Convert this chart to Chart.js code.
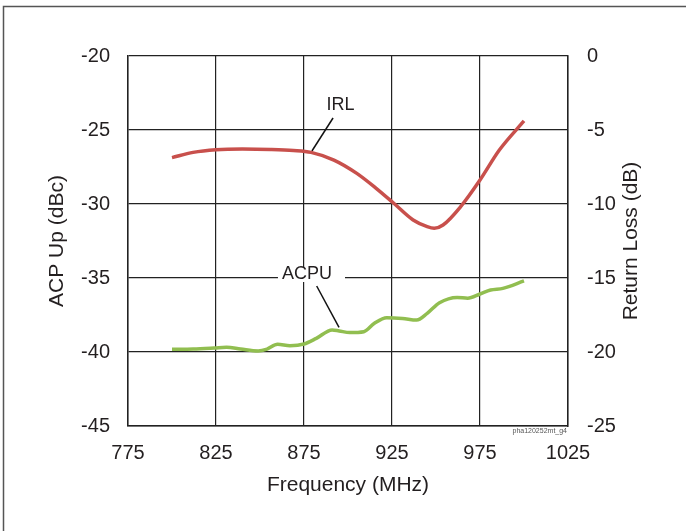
<!DOCTYPE html>
<html>
<head>
<meta charset="utf-8">
<script src="https://cdn.jsdelivr.net/npm/chart.js@4.4.0/dist/chart.umd.min.js"></script>
<style>
  html, body { margin: 0; padding: 0; background: #fff; }
  canvas { display: block; }
</style>
</head>
<body>
<canvas id="c" width="686" height="531"></canvas>
<script>
// ---- data ----
const xTicks = [775, 825, 875, 925, 975, 1025];
const leftTicks = [-20, -25, -30, -35, -40, -45];
const rightTicks = [0, -5, -10, -15, -20, -25];

const irlFreq = [800, 812, 825, 840, 856, 869, 879, 892, 905, 916, 926, 937, 945, 949, 954, 964, 975, 986, 1000];
const irlValues = [-6.87, -6.51, -6.33, -6.28, -6.31, -6.38, -6.51, -7.03, -7.93, -8.94, -9.95, -11.08, -11.53, -11.64, -11.42, -10.18, -8.38, -6.35, -4.39];

const acpuFreq = [800, 812, 824, 831, 839, 849, 854, 860, 867, 875, 882, 891, 895, 901, 909, 915, 922, 931, 939, 945, 952, 962, 968, 975, 981, 988, 1000];
const acpuValues = [-39.82, -39.80, -39.73, -39.68, -39.80, -39.93, -39.80, -39.48, -39.57, -39.46, -39.08, -38.51, -38.58, -38.69, -38.63, -38.06, -37.68, -37.73, -37.84, -37.39, -36.67, -36.31, -36.37, -36.08, -35.81, -35.70, -35.20];

// annotation anchors in data units (x: MHz, y: left axis dBc)
const irlLabel = { text: 'IRL', x: 895.7, y: -23.34 };
const irlLeader = [[891.5, -24.19], [879.5, -26.42]];
const acpuLabel = { text: 'ACPU', x: 876.7, y: -34.76 };
const acpuGap = [[860.2, -34.26], [898.3, -35.27]];
const acpuLeader = [[882.2, -35.54], [894.9, -38.33]];
const rightTitle = 'Return Loss (dB)';
const watermark = 'pha120252mt_g4';

const FONT = "'Liberation Sans', Arial, Helvetica, sans-serif";
const TEXT = '#231f20';
const TITLE_SIZE = 21;

const annotPlugin = {
  id: 'annot',
  beforeDraw(chart) {
    const ctx = chart.ctx;
    ctx.save();
    ctx.fillStyle = '#fff';
    ctx.fillRect(0, 0, chart.width, chart.height);
    ctx.strokeStyle = '#555';
    ctx.lineWidth = 1.5;
    ctx.beginPath();
    ctx.moveTo(3.5, chart.height);
    ctx.lineTo(3.5, 6.5);
    ctx.lineTo(chart.width, 6.5);
    ctx.stroke();
    ctx.restore();
  },
  beforeDatasetsDraw(chart) {
    const ctx = chart.ctx;
    const xs = chart.scales.x, ys = chart.scales.y, y2 = chart.scales.y2;
    ctx.save();
    // white gap behind ACPU label
    const gx0 = xs.getPixelForValue(acpuGap[0][0]), gy0 = ys.getPixelForValue(acpuGap[0][1]);
    const gx1 = xs.getPixelForValue(acpuGap[1][0]), gy1 = ys.getPixelForValue(acpuGap[1][1]);
    ctx.fillStyle = '#fff';
    ctx.fillRect(gx0, gy0, gx1 - gx0, gy1 - gy0);
    // labels
    ctx.fillStyle = TEXT;
    ctx.font = "18px " + FONT;
    ctx.textAlign = 'center';
    ctx.textBaseline = 'middle';
    ctx.fillText(irlLabel.text, xs.getPixelForValue(irlLabel.x), ys.getPixelForValue(irlLabel.y));
    ctx.fillText(acpuLabel.text, xs.getPixelForValue(acpuLabel.x), ys.getPixelForValue(acpuLabel.y));
    // leaders
    ctx.strokeStyle = '#111';
    ctx.lineWidth = 1.5;
    [irlLeader, acpuLeader].forEach(l => {
      ctx.beginPath();
      ctx.moveTo(xs.getPixelForValue(l[0][0]), ys.getPixelForValue(l[0][1]));
      ctx.lineTo(xs.getPixelForValue(l[1][0]), ys.getPixelForValue(l[1][1]));
      ctx.stroke();
    });
    // watermark
    const ca = chart.chartArea;
    ctx.fillStyle = '#555';
    ctx.font = "7px " + FONT;
    ctx.textAlign = 'right';
    ctx.textBaseline = 'top';
    ctx.fillText(watermark, ca.right - 1, ca.bottom + 2);
    // right axis title, reading bottom-to-top
    ctx.fillStyle = TEXT;
    ctx.font = TITLE_SIZE + "px " + FONT;
    ctx.textAlign = 'center';
    ctx.textBaseline = 'middle';
    ctx.translate(y2.right - TITLE_SIZE * 0.6, (y2.top + y2.bottom) / 2);
    ctx.rotate(-Math.PI / 2);
    ctx.fillText(rightTitle, 0, 0);
    ctx.restore();
  }
};

const tickFmt = v => String(v);

new Chart(document.getElementById('c'), {
  type: 'line',
  data: {
    datasets: [
      {
        label: 'IRL',
        data: irlFreq.map((f, i) => ({ x: f, y: irlValues[i] })),
        yAxisID: 'y2',
        borderColor: 'rgb(200,80,76)',
        borderWidth: 3.5,
        pointRadius: 0,
        cubicInterpolationMode: 'monotone',
        fill: false
      },
      {
        label: 'ACPU',
        data: acpuFreq.map((f, i) => ({ x: f, y: acpuValues[i] })),
        yAxisID: 'y',
        borderColor: 'rgb(145,190,80)',
        borderWidth: 3.5,
        pointRadius: 0,
        cubicInterpolationMode: 'monotone',
        fill: false
      }
    ]
  },
  options: {
    responsive: false,
    animation: false,
    devicePixelRatio: 1,
    layout: { padding: { left: 45, right: 42, top: 56, bottom: 33 } },
    plugins: { legend: { display: false }, tooltip: { enabled: false } },
    scales: {
      x: {
        type: 'linear',
        min: xTicks[0],
        max: xTicks[xTicks.length - 1],
        afterBuildTicks: s => { s.ticks = xTicks.map(v => ({ value: v })); },
        afterFit: s => { s.height = 72; },
        ticks: { color: TEXT, font: { family: FONT, size: 20 }, padding: 15, maxRotation: 0, autoSkip: false, callback: tickFmt },
        grid: { color: '#222', lineWidth: 1.2, drawTicks: false },
        border: { color: '#222', width: 1.5 },
        title: { display: true, text: 'Frequency (MHz)', color: TEXT, font: { family: FONT, size: TITLE_SIZE }, padding: 0 }
      },
      y: {
        position: 'left',
        min: leftTicks[leftTicks.length - 1],
        max: leftTicks[0],
        afterBuildTicks: s => { s.ticks = leftTicks.slice().reverse().map(v => ({ value: v })); },
        afterFit: s => { s.width = 83; },
        ticks: { color: TEXT, font: { family: FONT, size: 20 }, padding: 18, autoSkip: false, callback: tickFmt },
        grid: { color: '#222', lineWidth: 1.2, drawTicks: false },
        border: { color: '#222', width: 1.5 },
        title: { display: true, text: 'ACP Up (dBc)', color: TEXT, font: { family: FONT, size: TITLE_SIZE }, padding: 0 }
      },
      y2: {
        position: 'right',
        min: rightTicks[rightTicks.length - 1],
        max: rightTicks[0],
        afterBuildTicks: s => { s.ticks = rightTicks.slice().reverse().map(v => ({ value: v })); },
        afterFit: s => { s.width = 76; },
        ticks: { color: TEXT, font: { family: FONT, size: 20 }, padding: 19, autoSkip: false, callback: tickFmt },
        grid: { display: false, drawTicks: false },
        border: { color: '#222', width: 1.5 },
        title: { display: false }
      }
    }
  },
  plugins: [annotPlugin]
});
</script>
</body>
</html>
